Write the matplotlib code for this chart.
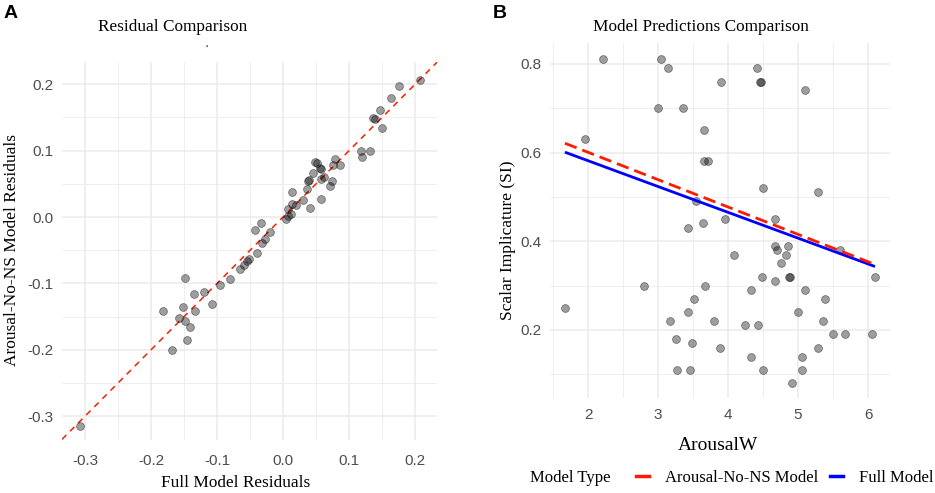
import matplotlib
matplotlib.use("Agg")
import matplotlib.pyplot as plt
from matplotlib.lines import Line2D
import numpy as np

# ---------------- Data ----------------
# Panel A: residuals
full_resid = [0.208, 0.176, 0.163, 0.147, 0.136, 0.140, 0.150, 0.118, 0.119, 0.132,
              0.079, 0.076, 0.086, 0.049, 0.051, 0.056, 0.058, 0.046, 0.062, 0.058,
              0.074, 0.071, 0.038, 0.040, 0.037, 0.057, 0.041, 0.030, 0.014, 0.014,
              0.020, 0.008, 0.012, 0.005, 0.008, -0.034, -0.042, -0.020, -0.028, -0.032,
              -0.040, -0.051, -0.054, -0.059, -0.066, -0.081, -0.096, -0.149, -0.120, -0.135,
              -0.108, -0.152, -0.133, -0.182, -0.157, -0.149, -0.141, -0.146, -0.168, -0.308]
nons_resid = [0.207, 0.198, 0.180, 0.161, 0.149, 0.148, 0.134, 0.100, 0.091, 0.100,
              0.088, 0.078, 0.078, 0.083, 0.082, 0.074, 0.072, 0.066, 0.060, 0.058,
              0.055, 0.047, 0.055, 0.056, 0.042, 0.027, 0.014, 0.025, 0.037, 0.019,
              0.018, 0.012, 0.005, -0.003, 0.001, -0.009, -0.020, -0.022, -0.033, -0.039,
              -0.054, -0.064, -0.067, -0.073, -0.078, -0.094, -0.103, -0.092, -0.113, -0.116,
              -0.131, -0.135, -0.141, -0.141, -0.152, -0.156, -0.165, -0.186, -0.200, -0.315]

# Panel B: observations
arousal_w = [2.21, 3.04, 3.14, 4.41, 3.90, 4.45, 4.47, 5.10, 3.00, 3.35,
             3.66, 1.95, 3.66, 3.71, 4.50, 5.29, 3.54, 3.96, 4.67, 3.64,
             3.43, 4.67, 4.86, 4.70, 5.60, 4.09, 4.83, 4.76, 4.48, 4.87,
             4.88, 6.10, 4.67, 2.80, 3.67, 4.33, 5.10, 3.52, 5.39, 1.67,
             3.43, 5.00, 3.17, 3.80, 5.35, 4.24, 4.43, 5.50, 5.67, 6.05,
             3.25, 3.48, 3.89, 5.28, 4.33, 5.05, 3.27, 3.45, 4.50, 5.05, 4.91]
si_values = [0.81, 0.81, 0.79, 0.79, 0.76, 0.76, 0.76, 0.74, 0.70, 0.70,
             0.65, 0.63, 0.58, 0.58, 0.52, 0.51, 0.49, 0.45, 0.45, 0.44,
             0.43, 0.39, 0.39, 0.38, 0.38, 0.37, 0.37, 0.35, 0.32, 0.32,
             0.32, 0.32, 0.31, 0.30, 0.30, 0.29, 0.29, 0.27, 0.27, 0.25,
             0.24, 0.24, 0.22, 0.22, 0.22, 0.21, 0.21, 0.19, 0.19, 0.19,
             0.18, 0.17, 0.16, 0.16, 0.14, 0.14, 0.11, 0.11, 0.11, 0.11, 0.08]

# Model fits: intercept, slope
full_model_coef = (0.698, -0.0582)
nons_model_coef = (0.724, -0.0617)

model_labels = ["Arousal-No-NS Model", "Full Model"]
model_colors = ["#ff1a00", "#0000ff"]

# ---------------- Style ----------------
SERIF = "Liberation Serif"
SANS = "Liberation Sans"
TICK_COLOR = "#4d4d4d"
GRID_COLOR = "#ebebeb"

W, H = 935, 493
fig = plt.figure(figsize=(W / 100, H / 100), dpi=100)


def fx(px):
    return px / W


def fy(py):
    return 1 - py / H


def style_axes(ax, xmaj, xmin, ymaj, ymin, xpad):
    ax.set_xticks(xmaj)
    ax.set_xticks(xmin, minor=True)
    ax.set_yticks(ymaj)
    ax.set_yticks(ymin, minor=True)
    ax.grid(True, which="major", color=GRID_COLOR, linewidth=1.1, zorder=0)
    ax.grid(True, which="minor", color=GRID_COLOR, linewidth=0.6, zorder=0)
    ax.set_axisbelow(True)
    for s in ax.spines.values():
        s.set_visible(False)
    ax.tick_params(which="both", length=0, labelcolor=TICK_COLOR, labelsize=11, pad=6)
    ax.tick_params(axis="x", which="both", pad=xpad)


def sans_ticks(ax):
    for lab in ax.get_xticklabels() + ax.get_yticklabels():
        lab.set_fontfamily(SANS)


PT_KW = dict(s=32, facecolor=(0, 0, 0, 0.38), edgecolor=(0, 0, 0, 0.5), linewidths=0.5, zorder=3)

# ---------------- Panel A ----------------
axA = fig.add_axes([fx(62), fy(440), fx(437) - fx(62), fy(62) - fy(440)])
axA.set_xlim(-0.335, 0.2333)
axA.set_ylim(-0.336, 0.2336)
xmajA = np.round(np.arange(-0.3, 0.21, 0.1), 2)
xminA = np.round(np.arange(-0.25, 0.2, 0.1), 2)
style_axes(axA, xmajA, xminA, xmajA, xminA, xpad=10)
axA.set_xticklabels([f"{v:.1f}" for v in xmajA])
axA.set_yticklabels([f"{v:.1f}" for v in xmajA])
sans_ticks(axA)
axA.axline((0, 0), slope=1, color="#ff1a00", linestyle=(0, (4, 3.5)), linewidth=1.1, zorder=2)
axA.scatter(full_resid, nons_resid, **PT_KW)

fig.text(fx(12), fy(250), "Arousal-No-NS Model Residuals", rotation=90, ha="center", va="center",
         family=SERIF, fontsize=12.5)
fig.text(fx(236), fy(483), "Full Model Residuals", ha="center", va="center", family=SERIF, fontsize=12.4)
fig.text(fx(173), fy(27), "Residual Comparison", ha="center", va="center", family=SERIF, fontsize=12.4)
fig.text(fx(206), fy(50), "'", ha="center", va="center", family=SANS, fontsize=8, color="black")
fig.text(fx(4), fy(14), "A", ha="left", va="center", family=SANS, fontweight="bold", fontsize=14)

# ---------------- Panel B ----------------
axB = fig.add_axes([fx(550), fy(398), fx(890) - fx(550), fy(43) - fy(398)])
axB.set_xlim(1.457, 6.314)
axB.set_ylim(0.0465, 0.847)
style_axes(axB, [2, 3, 4, 5, 6], [1.5, 2.5, 3.5, 4.5, 5.5],
           [0.2, 0.4, 0.6, 0.8], [0.1, 0.3, 0.5, 0.7], xpad=7)
axB.set_xticklabels(["2", "3", "4", "5", "6"])
axB.set_yticklabels(["0.2", "0.4", "0.6", "0.8"])
sans_ticks(axB)
axB.scatter(arousal_w, si_values, **PT_KW)

x_lo, x_hi = min(arousal_w), max(arousal_w)
xs = np.array([x_lo, x_hi])
axB.plot(xs, full_model_coef[0] + full_model_coef[1] * xs, color=model_colors[1],
         linewidth=2.0, zorder=4, solid_capstyle="butt")
axB.plot(xs, nons_model_coef[0] + nons_model_coef[1] * xs, color=model_colors[0],
         linewidth=2.0, linestyle=(0, (4.5, 2.2)), zorder=5)

fig.text(fx(508), fy(240), "Scalar Implicature (SI)", rotation=90, ha="center", va="center",
         family=SERIF, fontsize=12.5)
fig.text(fx(718), fy(446), "ArousalW", ha="center", va="center", family=SERIF, fontsize=14)
fig.text(fx(701), fy(27), "Model Predictions Comparison", ha="center", va="center", family=SERIF, fontsize=12.4)
fig.text(fx(493), fy(14), "B", ha="left", va="center", family=SANS, fontweight="bold", fontsize=14)

# Legend
fig.text(fx(530), fy(478), "Model Type", ha="left", va="center", family=SERIF, fontsize=12)
handles = [Line2D([], [], color=model_colors[0], linewidth=2.5),
           Line2D([], [], color=model_colors[1], linewidth=2.5)]
fig.legend(handles, model_labels, loc="center left", bbox_to_anchor=(fx(636), fy(478)), ncol=2,
           frameon=False, handlelength=0.75, handletextpad=1.0, columnspacing=0.7,
           prop={"family": SERIF, "size": 12}, borderaxespad=0, borderpad=0)

fig.savefig("out.png", dpi=100)
